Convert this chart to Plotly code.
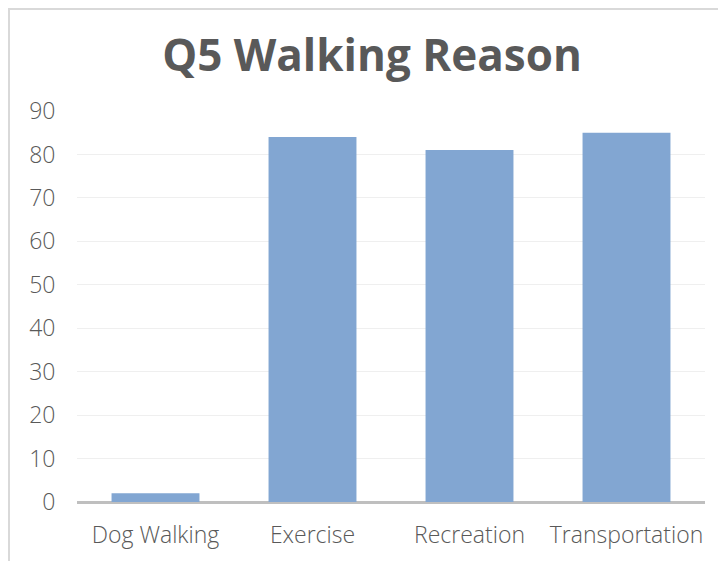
import plotly.graph_objects as go

categories = ["Dog Walking", "Exercise", "Recreation", "Transportation"]
values = [2, 84, 81, 85]
y_ticks = [0, 10, 20, 30, 40, 50, 60, 70, 80, 90]
title_text = "Q5 Walking Reason"

# page body has an 8px margin; figure sized to fit the 726x561 window
W, H = 718, 553
ml, mr, mt, mb = 69, 21, 103, 59
pw, ph = W - ml - mr, H - mt - mb

fig = go.Figure()
fig.add_trace(go.Bar(
    x=categories, y=values,
    marker=dict(color="#82a6d2", line=dict(width=0)),
    width=0.56,
))

tick_font = dict(family="'Open Sans', sans-serif", size=23, color="#595959", weight=300)
fig.update_layout(
    width=W, height=H,
    margin=dict(l=ml, r=mr, t=mt, b=mb, pad=0),
    paper_bgcolor="white", plot_bgcolor="white",
    showlegend=False,
    title=dict(text="<b>" + title_text + "</b>", x=364 / W, xanchor="center",
               y=1 - 48 / H, yanchor="middle",
               font=dict(family="'Open Sans', sans-serif", size=44, color="#595959")),
)
fig.update_xaxes(
    showgrid=False, showline=False, ticks="outside", ticklen=12, tickcolor="rgba(0,0,0,0)",
    tickfont=tick_font,
)
fig.update_yaxes(
    range=[0, 90], tickvals=y_ticks, showgrid=True, gridcolor="#efefef", gridwidth=1,
    zeroline=True, zerolinecolor="#bfbfbf", zerolinewidth=3,
    showline=False, ticks="outside", ticklen=16, tickcolor="rgba(0,0,0,0)",
    tickfont=tick_font,
)

# outer chart border (partially cropped)
bx0 = (1 - ml) / pw
by1 = (mt + ph - 1) / ph
fig.add_shape(type="rect", xref="paper", yref="paper",
              x0=bx0, x1=1.2, y0=-0.5, y1=by1,
              line=dict(color="#d9d9d9", width=2), fillcolor="rgba(0,0,0,0)", layer="below")

fig.write_html("out.html")
